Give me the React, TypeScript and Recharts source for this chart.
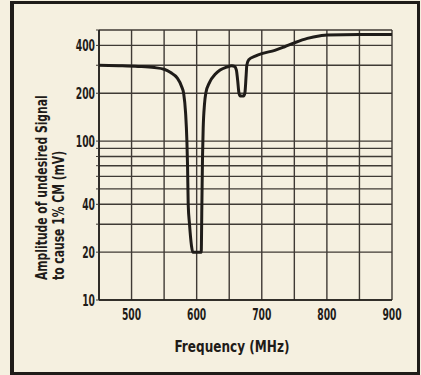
import { LineChart, Line, XAxis, YAxis, CartesianGrid } from 'recharts';

// frequency in MHz, amplitude in mV
const freqs = [
    450, 480, 510, 535, 550, 560, 570, 577, 580, 583, 585, 586, 587, 589, 592, 594,
    607, 608, 609, 610, 612, 614, 620, 628, 636, 646, 654, 658, 661, 663, 665, 667,
    672, 674, 676, 677, 680, 690, 700, 720, 735, 750, 770, 790, 800, 850, 900,
];
const amplitude = [
    300, 298, 295, 290, 283, 270, 250, 220, 200, 150, 100, 70, 40, 30, 22, 20,
    20, 40, 80, 120, 170, 200, 235, 262, 280, 292, 298, 295, 280, 240, 200, 192,
    192, 200, 260, 300, 325, 342, 355, 372, 392, 415, 443, 460, 465, 468, 468,
];

const xTicks = [450, 500, 550, 600, 650, 700, 750, 800, 850, 900];
const xLabels = [500, 600, 700, 800, 900];
const yTicks = [10, 20, 30, 40, 50, 60, 70, 80, 90, 100, 200, 300, 400, 500];
const yLabels = [10, 20, 40, 100, 200, 400];

const data = freqs.map((f, i) => ({ f, amp: amplitude[i] }));

const INK = '#1f1c19';
const GRID = '#3f3a35';
const PAPER = '#f5f0e0';
const FONT = "'DejaVu Sans Condensed', 'DejaVu Sans', sans-serif";

// the scan uses a very narrow bold face, so squeeze the text horizontally
function NarrowText({ x, y, anchor, dy, size, squeeze, rotate, children }: any) {
    return (
        <g transform={`translate(${x},${y})${rotate ? ` rotate(${rotate})` : ''}`}>
            <text
                transform={`scale(${squeeze},1)`}
                textAnchor={anchor}
                dy={dy}
                fontFamily={FONT}
                fontWeight="bold"
                fontSize={size}
                fill={INK}
            >
                {children}
            </text>
        </g>
    );
}

function XTick({ x, y, payload }: any) {
    if (!xLabels.includes(payload.value)) return null;
    return (
        <NarrowText x={x} y={y} anchor="middle" dy="0.72em" size={16} squeeze={0.64}>
            {payload.value}
        </NarrowText>
    );
}

function YTick({ x, y, payload }: any) {
    if (!yLabels.includes(payload.value)) return null;
    return (
        <NarrowText x={x} y={y} anchor="end" dy="0.36em" size={16} squeeze={0.64}>
            {payload.value}
        </NarrowText>
    );
}

function YTitle() {
    return (
        <g>
            <NarrowText x={47} y={280} anchor="start" size={15} squeeze={0.8} rotate={-90}>
                Amplitude of undesired Signal
            </NarrowText>
            <NarrowText x={64} y={280} anchor="start" size={15} squeeze={0.8} rotate={-90}>
                to cause 1% CM (mV)
            </NarrowText>
        </g>
    );
}

function XTitle() {
    return (
        <NarrowText x={232} y={352} anchor="middle" size={16} squeeze={0.84}>
            Frequency (MHz)
        </NarrowText>
    );
}

export default function App() {
    return (
        <div style={{ position: 'absolute', left: 0, top: 0, width: 421, height: 375, background: PAPER, overflow: 'hidden' }}>
            <div
                style={{
                    position: 'absolute',
                    left: 10,
                    top: 1,
                    width: 403,
                    height: 368,
                    borderTop: `3px solid ${INK}`,
                    borderLeft: `4px solid ${INK}`,
                    borderRight: `3px solid ${INK}`,
                    borderBottom: `3px solid ${INK}`,
                }}
            />
            <div style={{ position: 'absolute', left: 0, top: 0 }}>
                <LineChart width={421} height={375} data={data} margin={{ top: 30, right: 29, bottom: 0, left: 0 }}>
                    <CartesianGrid stroke={GRID} strokeWidth={1.4} />
                    <XAxis
                        dataKey="f"
                        type="number"
                        domain={[450, 900]}
                        ticks={xTicks}
                        interval={0}
                        allowDataOverflow
                        height={75}
                        axisLine={{ stroke: INK, strokeWidth: 1.6 }}
                        tickLine={false}
                        tickMargin={2}
                        tick={<XTick />}
                        label={{ content: () => <XTitle /> }}
                    />
                    <YAxis
                        type="number"
                        scale="log"
                        domain={[10, 500]}
                        ticks={yTicks}
                        interval={0}
                        allowDataOverflow
                        width={99}
                        axisLine={{ stroke: INK, strokeWidth: 1.6 }}
                        tickLine={{ stroke: GRID }}
                        tickSize={3}
                        tickMargin={1}
                        tick={<YTick />}
                        label={{ content: () => <YTitle /> }}
                    />
                    <Line
                        type="monotone"
                        dataKey="amp"
                        stroke={INK}
                        strokeWidth={3}
                        dot={false}
                        isAnimationActive={false}
                    />
                </LineChart>
            </div>
        </div>
    );
}
